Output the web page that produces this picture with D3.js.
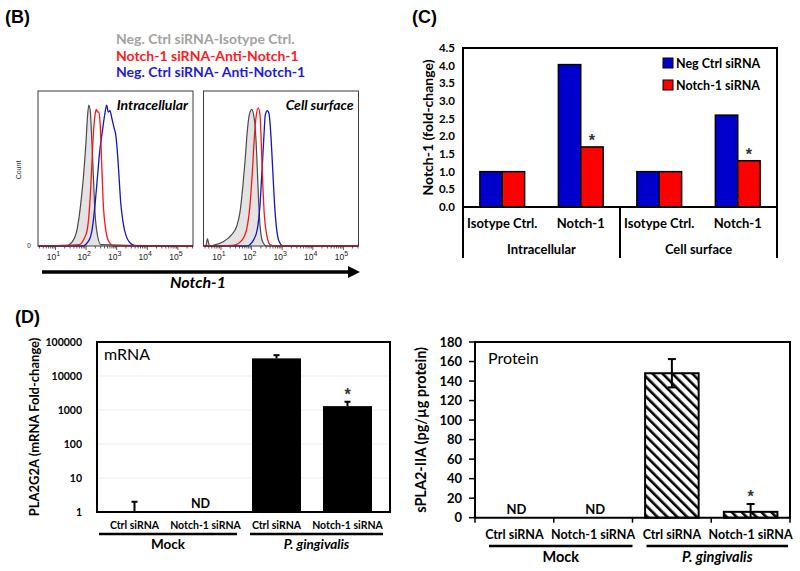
<!DOCTYPE html>
<html><head><meta charset="utf-8">
<script src="https://cdn.jsdelivr.net/npm/d3@7"></script>
<style>body{margin:0;background:#fff} svg{display:block}</style>
</head><body><svg id="fig" width="800" height="571"></svg>
<script>
// ================= DATA =================
// Panel B: flow cytometry histograms (fluorescence intensity, % of max count)
const histLegend = ["Neg. Ctrl siRNA-Isotype Ctrl.", "Notch-1 siRNA-Anti-Notch-1", "Neg. Ctrl siRNA- Anti-Notch-1"];
const histPanelLabels = ["Intracellular", "Cell surface"];
const histTickValues = [10, 100, 1000, 10000, 100000];
const histTickExp = ["1", "2", "3", "4", "5"];

const intraIsoX = [21, 35, 51, 66, 81, 98, 112, 123, 138, 151, 174, 195, 234, 302];
const intraIsoY = [0, 3, 12, 29, 48, 72, 93, 100, 95, 79, 48, 24, 8, 1];
const intraKdX = [59, 85, 110, 131, 152, 172, 196, 215, 239, 263, 289, 321, 362, 434, 558, 813];
const intraKdY = [1, 5, 12, 29, 55, 79, 93, 97, 95, 95, 86, 60, 31, 12, 3, 0];
const intraCtrlX = [75, 124, 158, 195, 233, 278, 338, 405, 470, 532, 603, 688, 818, 929, 1050, 1200, 1350, 1610, 2050, 3220, 4670];
const intraCtrlY = [0, 4, 12, 29, 48, 67, 81, 93, 100, 95, 96, 91, 84, 79, 67, 48, 31, 17, 7, 1, 0];

const surfIsoX = [3.2, 3.6, 4.2, 5.6, 11.9, 22.3, 32.6, 41.7, 51, 60.9, 72, 84, 101, 114, 129, 147, 166, 188, 230, 311];
const surfIsoY = [0, 5, 0, 0.5, 3, 8, 14, 24, 41, 60, 81, 93, 97, 94, 86, 65, 36, 15, 3, 0];
const surfKdX = [25, 47.6, 69, 88.5, 106, 122, 139, 165, 188, 208, 230, 261, 311, 399, 580];
const surfKdY = [0.5, 4, 12, 29, 53, 76, 91, 98, 93, 72, 46, 22, 8, 1, 0];
const surfCtrlX = [69, 114, 154, 188, 218, 250, 280, 325, 370, 420, 488, 565, 658, 800, 1090];
const surfCtrlY = [0, 4, 12, 29, 53, 76, 93, 96, 94, 81, 55, 29, 12, 3, 0];

// Panel C
const cCategories = ["Isotype Ctrl.", "Notch-1", "Isotype Ctrl.", "Notch-1"];
const cGroups = ["Intracellular", "Cell surface"];
const cSeries = ["Neg Ctrl siRNA", "Notch-1 siRNA"];
const cNegCtrl = [1.0, 4.03, 1.0, 2.6];
const cNotchKd = [1.0, 1.7, 1.0, 1.31];
const cSignificant = [false, true, false, true];
const cTicks = [0, 0.5, 1.0, 1.5, 2.0, 2.5, 3.0, 3.5, 4.0, 4.5];

// Panel D
const dCategories = ["Ctrl siRNA", "Notch-1 siRNA", "Ctrl siRNA", "Notch-1 siRNA"];
const dGroups = ["Mock", "P. gingivalis"];
const mrnaValues = [1, null, 33000, 1300];
const mrnaErrTop = [2, null, 41000, 1750];
const mrnaSignificant = [false, false, false, true];
const mrnaTicks = [1, 10, 100, 1000, 10000, 100000];
const proteinValues = [null, null, 148, 6];
const proteinErr = [null, null, 14.5, 8];
const proteinSignificant = [false, false, false, true];
const proteinTicks = [0, 20, 40, 60, 80, 100, 120, 140, 160, 180];

// ================= DRAW =================
const F = "Lato, 'Open Sans', sans-serif";
const ARIAL = "'Liberation Sans', Arial, sans-serif";
const svg = d3.select("#fig");
svg.append("rect").attr("width", 800).attr("height", 571).attr("fill", "#fff");

// panel letters
[["(B)", 5, 23], ["(C)", 412, 23], ["(D)", 15, 323]].forEach(([t, x, y]) => {
  svg.append("text").attr("x", x).attr("y", y).text(t)
    .attr("font-family", ARIAL).attr("font-weight", "bold").attr("font-size", 18);
});

// ---------- Panel B ----------
const legendColors = ["#a3a3a3", "#ff1c1c", "#1c1ce0"];
histLegend.forEach((t, i) => {
  svg.append("text").attr("x", 116).attr("y", 44 + i * 16.5).text(t)
    .attr("font-family", F).attr("font-weight", "bold").attr("font-size", 14).attr("fill", legendColors[i]);
});

const histBoxes = [38, 203.5];
const histTop = 91, histBottom = 246, histW = 155;
const panelsData = [
  [[intraIsoX, intraIsoY], [intraKdX, intraKdY], [intraCtrlX, intraCtrlY]],
  [[surfIsoX, surfIsoY], [surfKdX, surfKdY], [surfCtrlX, surfCtrlY]]
];
const hy = d3.scaleLinear().domain([0, 110]).range([histBottom, histTop]);

histBoxes.forEach((left, p) => {
  const dMin = Math.pow(10, 1 - 17.5 / 30.6), dMax = Math.pow(10, 1 - 17.5 / 30.6 + histW / 30.6);
  const hx = d3.scaleLog().domain([dMin, dMax]).range([left, left + histW]);
  const g = svg.append("g");
  const clipId = "clip" + p;
  svg.append("clipPath").attr("id", clipId).append("rect")
    .attr("x", left).attr("y", histTop).attr("width", histW).attr("height", histBottom - histTop + 1);
  const series = panelsData[p].map(([xs, ys]) => {
    const pts = xs.map((x, i) => [x, ys[i]]);
    return [[dMin, 0], ...pts.filter(d => d[0] >= dMin), [dMax, 0]];
  });
  const line = d3.line().x(d => hx(d[0])).y(d => hy(d[1])).curve(d3.curveMonotoneX);
  const area = d3.area().x(d => hx(d[0])).y0(histBottom).y1(d => hy(d[1])).curve(d3.curveMonotoneX);
  const cg = g.append("g").attr("clip-path", `url(#${clipId})`);
  cg.append("path").attr("d", area(series[0])).attr("fill", "#e3e3e3");
  cg.append("path").attr("d", line(series[0])).attr("fill", "none").attr("stroke", "#4a4a4a").attr("stroke-width", 1.2);
  cg.append("path").attr("d", line(series[2])).attr("fill", "none").attr("stroke", "#1414c8").attr("stroke-width", 1.3);
  cg.append("path").attr("d", line(series[1])).attr("fill", "none").attr("stroke", "#ff1414").attr("stroke-width", 1.3);
  g.append("rect").attr("x", left).attr("y", histTop).attr("width", histW).attr("height", histBottom - histTop)
    .attr("fill", "none").attr("stroke", "#3a3a3a").attr("stroke-width", 1);
  // ticks
  const minor = [];
  for (let k = 0; k <= 5; k++) for (let m = 1; m <= 9; m++) {
    const v = m * Math.pow(10, k);
    if (v >= dMin && v <= dMax) minor.push(v);
  }
  minor.forEach(v => {
    const major = histTickValues.includes(v);
    g.append("line").attr("x1", hx(v)).attr("x2", hx(v)).attr("y1", histBottom).attr("y2", histBottom + (major ? 4 : 2.5))
      .attr("stroke", "#333").attr("stroke-width", 0.8);
  });
  histTickValues.forEach((v, i) => {
    const t = g.append("text").attr("x", hx(v) - 2).attr("y", histBottom + 14)
      .attr("font-family", ARIAL).attr("font-size", 8.5).attr("fill", "#222").attr("text-anchor", "middle");
    t.append("tspan").text("10");
    t.append("tspan").text(histTickExp[i]).attr("dy", -4.5).attr("font-size", 7);
  });
  g.append("text").attr("x", left + histW - 5).attr("y", histTop + 19).text(histPanelLabels[p])
    .attr("font-family", F).attr("font-weight", "bold").attr("font-style", "italic").attr("font-size", 14).attr("text-anchor", "end");
});
svg.append("text").attr("x", 31).attr("y", histBottom + 2).text("0").attr("text-anchor", "end")
  .attr("font-family", ARIAL).attr("font-size", 7).attr("fill", "#333");
svg.append("text").attr("transform", `translate(21,170) rotate(-90)`).text("Count").attr("text-anchor", "middle")
  .attr("font-family", ARIAL).attr("font-size", 7).attr("fill", "#333");
svg.append("line").attr("x1", 42).attr("x2", 350).attr("y1", 272).attr("y2", 272).attr("stroke", "#000").attr("stroke-width", 3.5);
svg.append("path").attr("d", "M348,266 L360,272 L348,278 Z").attr("fill", "#000");
svg.append("text").attr("x", 198).attr("y", 288).text("Notch-1").attr("text-anchor", "middle")
  .attr("font-family", F).attr("font-weight", "bold").attr("font-style", "italic").attr("font-size", 16);

// asterisk helper
function star(g, x, yCenter) {
  g.append("text").attr("x", x).attr("y", yCenter + 9).text("*").attr("text-anchor", "middle")
    .attr("font-family", ARIAL).attr("font-weight", "bold").attr("font-size", 16).attr("fill", "#333");
}

// ---------- Panel C ----------
{
  const L = 463, R = 777, T = 48, B = 207, Bot = 258;
  const x = d3.scaleBand().domain(d3.range(cCategories.length)).range([L, R]).paddingInner(0.43).paddingOuter(0.215);
  const xs = d3.scaleBand().domain(cSeries).range([0, x.bandwidth()]);
  const y = d3.scaleLinear().domain([0, 4.5]).range([B, T]);
  const colors = ["#0000cd", "#ff0000"];
  const vals = [cNegCtrl, cNotchKd];
  const g = svg.append("g");
  cCategories.forEach((c, i) => {
    cSeries.forEach((s, j) => {
      const v = vals[j][i];
      g.append("rect").attr("x", x(i) + xs(s)).attr("y", y(v)).attr("width", xs.bandwidth()).attr("height", y(0) - y(v))
        .attr("fill", colors[j]).attr("stroke", "#000").attr("stroke-width", 1.5);
    });
    if (cSignificant[i]) star(g, x(i) + xs(cSeries[1]) + xs.bandwidth() / 2, y(cNotchKd[i]) - 10);
    g.append("text").attr("x", x(i) + x.bandwidth() / 2).attr("y", 228).text(c).attr("text-anchor", "middle")
      .attr("font-family", F).attr("font-weight", "bold").attr("font-size", 13);
  });
  cGroups.forEach((gr, k) => {
    const cx = (x(2 * k) + x(2 * k + 1) + x.bandwidth()) / 2;
    g.append("text").attr("x", cx).attr("y", 254).text(gr).attr("text-anchor", "middle")
      .attr("font-family", F).attr("font-weight", "bold").attr("font-size", 13);
  });
  const mid = (x(1) + x.bandwidth() + x(2)) / 2;
  g.append("path").attr("d", `M${L},${Bot}V${T}H${R}V${Bot}M${L},${B}H${R}M${mid},${B}V${Bot}`)
    .attr("fill", "none").attr("stroke", "#000").attr("stroke-width", 2);
  cTicks.forEach(t => {
    g.append("text").attr("x", 455).attr("y", y(t) + 4).text(t.toFixed(1)).attr("text-anchor", "end")
      .attr("font-family", F).attr("font-weight", "bold").attr("font-size", 11.5);
  });
  g.append("text").attr("transform", `translate(433,${(T + B) / 2}) rotate(-90)`).text("Notch-1 (fold-change)")
    .attr("text-anchor", "middle").attr("font-family", F).attr("font-weight", "bold").attr("font-size", 14);
  cSeries.forEach((s, j) => {
    g.append("rect").attr("x", 663).attr("y", 58 + j * 22).attr("width", 10).attr("height", 10)
      .attr("fill", colors[j]).attr("stroke", "#000").attr("stroke-width", 1);
    g.append("text").attr("x", 676).attr("y", 67.5 + j * 22).text(s)
      .attr("font-family", F).attr("font-weight", "bold").attr("font-size", 12.5);
  });
}

// ---------- Panel D left (mRNA) ----------
{
  const L = 97, R = 390, T = 342, B = 512;
  const x = d3.scaleBand().domain(d3.range(dCategories.length)).range([99, 383]).paddingInner(0.31).paddingOuter(0.155);
  const y = d3.scaleLog().domain([1, 100000]).range([B, T]);
  const g = svg.append("g");
  mrnaTicks.forEach(t => {
    if (t > 1 && t < 100000) g.append("line").attr("x1", L).attr("x2", R).attr("y1", y(t)).attr("y2", y(t))
      .attr("stroke", "#ebebeb").attr("stroke-width", 1);
    g.append("text").attr("x", 82).attr("y", y(t) + 3.5).text(String(t)).attr("text-anchor", "end")
      .attr("font-family", F).attr("font-weight", "bold").attr("font-size", 10.5);
  });
  dCategories.forEach((c, i) => {
    const cx = x(i) + x.bandwidth() / 2;
    const v = mrnaValues[i];
    if (v === null) {
      g.append("text").attr("x", cx - 5).attr("y", B - 4).text("ND").attr("text-anchor", "middle")
        .attr("font-family", F).attr("font-weight", "bold").attr("font-size", 12.5);
    } else {
      if (v > 1) g.append("rect").attr("x", x(i)).attr("y", y(v)).attr("width", x.bandwidth()).attr("height", y(1) - y(v))
        .attr("fill", "#000");
      const e = mrnaErrTop[i];
      g.append("line").attr("x1", cx).attr("x2", cx).attr("y1", y(v)).attr("y2", y(e)).attr("stroke", "#000").attr("stroke-width", 2);
      g.append("line").attr("x1", cx - 3).attr("x2", cx + 3).attr("y1", y(e)).attr("y2", y(e)).attr("stroke", "#000").attr("stroke-width", 2);
      if (mrnaSignificant[i]) star(g, cx, y(e) - 11);
    }
    g.append("text").attr("x", cx).attr("y", 529).text(c).attr("text-anchor", "middle")
      .attr("font-family", F).attr("font-weight", "bold").attr("font-size", 10.5);
  });
  g.append("rect").attr("x", L).attr("y", T).attr("width", R - L).attr("height", B - T)
    .attr("fill", "none").attr("stroke", "#000").attr("stroke-width", 2);
  const st = x.step();
  const c0 = x(0) + x.bandwidth() / 2, c1 = x(1) + x.bandwidth() / 2, c2 = x(2) + x.bandwidth() / 2, c3 = x(3) + x.bandwidth() / 2;
  [[c0 - st / 2, c1 + st / 2 - 4], [c2 - st / 2 + 9, c3 + st / 2]].forEach(([a, b], k) => {
    g.append("line").attr("x1", a).attr("x2", b).attr("y1", 534).attr("y2", 534).attr("stroke", "#000").attr("stroke-width", 2.5);
    g.append("text").attr("x", (a + b) / 2).attr("y", 549).text(dGroups[k]).attr("text-anchor", "middle")
      .attr("font-family", F).attr("font-weight", "bold").attr("font-style", k === 1 ? "italic" : "normal").attr("font-size", 13.5);
  });
  g.append("text").attr("x", 104).attr("y", 360).text("mRNA").attr("font-family", F).attr("font-size", 16);
  g.append("text").attr("transform", `translate(39,${(T + B) / 2}) rotate(-90)`).text("PLA2G2A (mRNA Fold-change)")
    .attr("text-anchor", "middle").attr("font-family", F).attr("font-weight", "bold").attr("font-size", 13);
}

// ---------- Panel D right (protein) ----------
{
  const L = 475, R = 790, T = 342, B = 517.7;
  const x = d3.scaleBand().domain(d3.range(dCategories.length)).range([L, R]).paddingInner(0.32).paddingOuter(0.16);
  const y = d3.scaleLinear().domain([0, 180]).range([B, T]);
  const defs = svg.append("defs");
  const pat = defs.append("pattern").attr("id", "hatch").attr("patternUnits", "userSpaceOnUse")
    .attr("width", 7).attr("height", 7).attr("patternTransform", "rotate(-45)");
  pat.append("rect").attr("width", 7).attr("height", 7).attr("fill", "#fff");
  pat.append("rect").attr("x", 0).attr("width", 2.6).attr("height", 7).attr("fill", "#000");
  const g = svg.append("g");
  dCategories.forEach((c, i) => {
    const cx = x(i) + x.bandwidth() / 2;
    const v = proteinValues[i];
    if (v === null) {
      g.append("text").attr("x", cx + 2).attr("y", 514).text("ND").attr("text-anchor", "middle")
        .attr("font-family", F).attr("font-weight", "bold").attr("font-size", 13);
    } else {
      g.append("rect").attr("x", x(i)).attr("y", y(v)).attr("width", x.bandwidth()).attr("height", y(0) - y(v))
        .attr("fill", "url(#hatch)").attr("stroke", "#000").attr("stroke-width", 2);
      const e = proteinErr[i];
      const lo = Math.max(0, v - e), hi = v + e;
      g.append("line").attr("x1", cx).attr("x2", cx).attr("y1", y(lo)).attr("y2", y(hi)).attr("stroke", "#000").attr("stroke-width", 2);
      g.append("line").attr("x1", cx - 4).attr("x2", cx + 4).attr("y1", y(hi)).attr("y2", y(hi)).attr("stroke", "#000").attr("stroke-width", 2);
      if (v - e > 0) g.append("line").attr("x1", cx - 4).attr("x2", cx + 4).attr("y1", y(lo)).attr("y2", y(lo)).attr("stroke", "#000").attr("stroke-width", 2);
      if (proteinSignificant[i]) star(g, cx, y(hi) - 11);
    }
    g.append("text").attr("x", cx).attr("y", 539).text(c).attr("text-anchor", "middle")
      .attr("font-family", F).attr("font-weight", "bold").attr("font-size", 12.5);
  });
  g.append("path").attr("d", `M${L},${B}V${T}H${R}V${B}H${L}`).attr("fill", "none").attr("stroke", "#000").attr("stroke-width", 2);
  proteinTicks.forEach(t => {
    g.append("line").attr("x1", L - 6).attr("x2", L).attr("y1", y(t)).attr("y2", y(t)).attr("stroke", "#000").attr("stroke-width", 1.5);
    g.append("text").attr("x", 462).attr("y", y(t) + 4.5).text(t).attr("text-anchor", "end")
      .attr("font-family", F).attr("font-weight", "bold").attr("font-size", 13);
  });
  const st = (R - L) / dCategories.length;
  for (let i = 0; i <= dCategories.length; i++) {
    const xx = L + i * st;
    g.append("line").attr("x1", xx).attr("x2", xx).attr("y1", B).attr("y2", B + 5).attr("stroke", "#000").attr("stroke-width", 1.5);
  }
  [[L + 14, L + 2 * st], [L + 2 * st + 14, R - 2]].forEach(([a, b], k) => {
    g.append("line").attr("x1", a).attr("x2", b).attr("y1", 546).attr("y2", 546).attr("stroke", "#000").attr("stroke-width", 2.5);
    g.append("text").attr("x", (a + b) / 2).attr("y", 562).text(dGroups[k]).attr("text-anchor", "middle")
      .attr("font-family", F).attr("font-weight", "bold").attr("font-style", k === 1 ? "italic" : "normal").attr("font-size", 14.5);
  });
  g.append("text").attr("x", 488).attr("y", 364).text("Protein").attr("font-family", F).attr("font-size", 16);
  g.append("text").attr("transform", `translate(426,${(T + B) / 2}) rotate(-90)`).text("sPLA2-IIA (pg/µg protein)")
    .attr("text-anchor", "middle").attr("font-family", F).attr("font-weight", "bold").attr("font-size", 14.5);
}
</script></body></html>
